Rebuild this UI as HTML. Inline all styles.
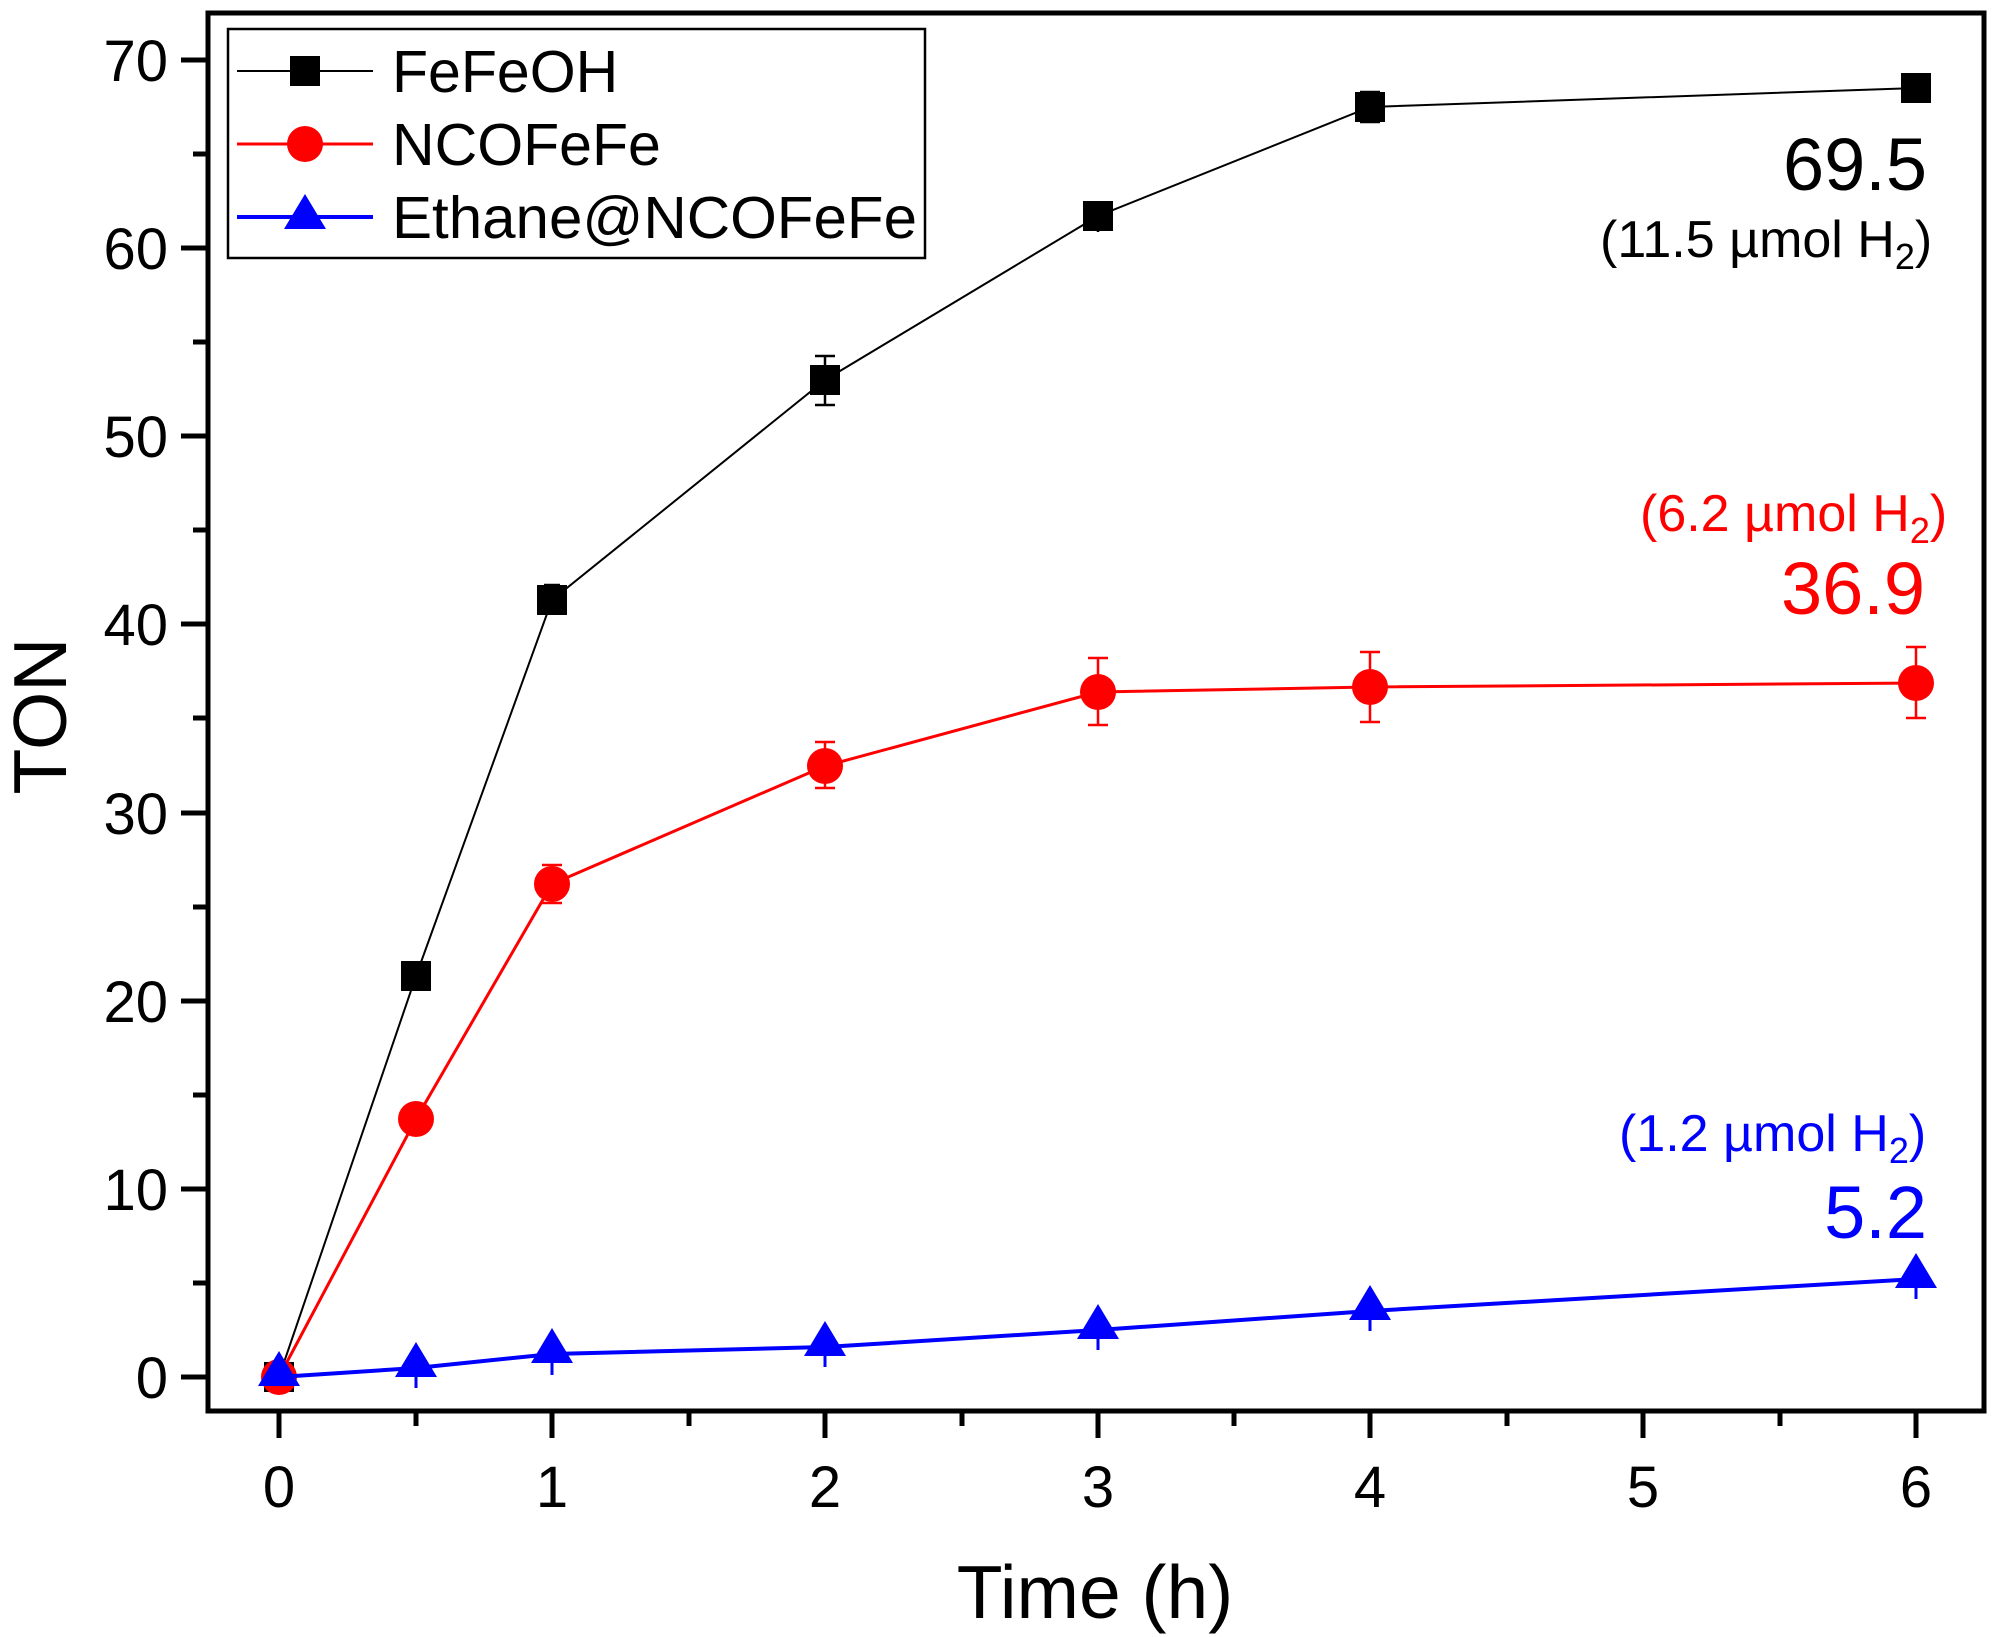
<!DOCTYPE html>
<html><head><meta charset="utf-8"><style>
html,body{margin:0;padding:0;background:#fff;}
svg{display:block;font-family:"Liberation Sans",Arial,sans-serif;}
</style></head><body>
<svg width="1994" height="1637" viewBox="0 0 1994 1637" xmlns="http://www.w3.org/2000/svg">
<g stroke="#000" stroke-width="5">
<line x1="279" y1="1412" x2="279" y2="1438"/>
<line x1="416" y1="1412" x2="416" y2="1426"/>
<line x1="552" y1="1412" x2="552" y2="1438"/>
<line x1="689" y1="1412" x2="689" y2="1426"/>
<line x1="825" y1="1412" x2="825" y2="1438"/>
<line x1="962" y1="1412" x2="962" y2="1426"/>
<line x1="1098" y1="1412" x2="1098" y2="1438"/>
<line x1="1234" y1="1412" x2="1234" y2="1426"/>
<line x1="1370" y1="1412" x2="1370" y2="1438"/>
<line x1="1507" y1="1412" x2="1507" y2="1426"/>
<line x1="1643" y1="1412" x2="1643" y2="1438"/>
<line x1="1780" y1="1412" x2="1780" y2="1426"/>
<line x1="1916" y1="1412" x2="1916" y2="1438"/>
<line x1="207" y1="1377" x2="181" y2="1377"/>
<line x1="207" y1="1283" x2="193" y2="1283"/>
<line x1="207" y1="1189" x2="181" y2="1189"/>
<line x1="207" y1="1095" x2="193" y2="1095"/>
<line x1="207" y1="1001" x2="181" y2="1001"/>
<line x1="207" y1="907" x2="193" y2="907"/>
<line x1="207" y1="813" x2="181" y2="813"/>
<line x1="207" y1="718" x2="193" y2="718"/>
<line x1="207" y1="624" x2="181" y2="624"/>
<line x1="207" y1="530" x2="193" y2="530"/>
<line x1="207" y1="436" x2="181" y2="436"/>
<line x1="207" y1="342" x2="193" y2="342"/>
<line x1="207" y1="248" x2="181" y2="248"/>
<line x1="207" y1="154" x2="193" y2="154"/>
<line x1="207" y1="60" x2="181" y2="60"/>
</g>
<rect x="208" y="13" width="1776" height="1398" fill="none" stroke="#000" stroke-width="5"/>
<g font-size="58" fill="#000" text-anchor="middle">
<text x="279" y="1507">0</text><text x="552" y="1507">1</text><text x="825" y="1507">2</text>
<text x="1098" y="1507">3</text><text x="1370" y="1507">4</text><text x="1643" y="1507">5</text><text x="1916" y="1507">6</text>
</g>
<g font-size="58" fill="#000" text-anchor="end">
<text x="168" y="1398">0</text><text x="168" y="1210">10</text><text x="168" y="1022">20</text>
<text x="168" y="834">30</text><text x="168" y="645">40</text><text x="168" y="457">50</text>
<text x="168" y="269">60</text><text x="168" y="81">70</text>
</g>
<text x="1095" y="1618" font-size="75" text-anchor="middle">Time (h)</text>
<text transform="translate(66,716) rotate(-90)" font-size="75" text-anchor="middle">TON</text>

<g stroke="#000" stroke-width="2.5">
<line x1="552" y1="585" x2="552" y2="611"/><line x1="544" y1="585" x2="560" y2="585"/><line x1="544" y1="611" x2="560" y2="611"/>
<line x1="825" y1="356" x2="825" y2="405"/><line x1="815" y1="356" x2="835" y2="356"/><line x1="815" y1="405" x2="835" y2="405"/>
<line x1="1370" y1="92" x2="1370" y2="122"/><line x1="1360" y1="92" x2="1380" y2="92"/><line x1="1360" y1="122" x2="1380" y2="122"/>
<line x1="1098" y1="208" x2="1098" y2="232"/><line x1="1088" y1="208" x2="1108" y2="208"/>
</g>
<polyline fill="none" stroke="#000" stroke-width="2" points="279,1377 416,976 552,600 825,380 1098,216 1370,107 1916,88"/>
<g fill="#000">
<rect x="264" y="1362" width="30" height="30"/><rect x="401" y="961" width="30" height="30"/>
<rect x="537" y="585" width="30" height="30"/><rect x="810" y="365" width="30" height="30"/>
<rect x="1083" y="201" width="30" height="30"/><rect x="1355" y="92" width="30" height="30"/>
<rect x="1901" y="73" width="30" height="30"/>
</g>
<g stroke="#f00" stroke-width="2.5">
<line x1="552" y1="865" x2="552" y2="903"/><line x1="542" y1="865" x2="562" y2="865"/><line x1="542" y1="903" x2="562" y2="903"/>
<line x1="825" y1="742" x2="825" y2="788"/><line x1="815" y1="742" x2="835" y2="742"/><line x1="815" y1="788" x2="835" y2="788"/>
<line x1="1098" y1="658" x2="1098" y2="725"/><line x1="1088" y1="658" x2="1108" y2="658"/><line x1="1088" y1="725" x2="1108" y2="725"/>
<line x1="1370" y1="652" x2="1370" y2="722"/><line x1="1360" y1="652" x2="1380" y2="652"/><line x1="1360" y1="722" x2="1380" y2="722"/>
<line x1="1916" y1="647" x2="1916" y2="718"/><line x1="1906" y1="647" x2="1926" y2="647"/><line x1="1906" y1="718" x2="1926" y2="718"/>
</g>
<polyline fill="none" stroke="#f00" stroke-width="3" points="279,1377 416,1119 552,884 825,766 1098,692 1370,687 1916,683"/>
<g fill="#f00">
<circle cx="279" cy="1377" r="18"/><circle cx="416" cy="1119" r="18"/><circle cx="552" cy="884" r="18"/>
<circle cx="825" cy="766" r="18"/><circle cx="1098" cy="692" r="18"/><circle cx="1370" cy="687" r="18"/><circle cx="1916" cy="683" r="18"/>
</g>
<g stroke="#00f" stroke-width="3">
<line x1="416" y1="1368" x2="416" y2="1388"/><line x1="552" y1="1355" x2="552" y2="1375"/>
<line x1="825" y1="1347" x2="825" y2="1367"/><line x1="1098" y1="1330" x2="1098" y2="1350"/>
<line x1="1370" y1="1311" x2="1370" y2="1331"/><line x1="1916" y1="1279" x2="1916" y2="1299"/>
</g>
<polyline fill="none" stroke="#00f" stroke-width="4" points="279,1377 416,1368 552,1354 825,1347 1098,1330 1370,1311 1916,1279"/>
<g fill="#00f">
<polygon points="279,1351 258,1386 300,1386"/><polygon points="416,1342 395,1377 437,1377"/>
<polygon points="552,1328 531,1363 573,1363"/><polygon points="825,1321 804,1356 846,1356"/>
<polygon points="1098,1304 1077,1339 1119,1339"/><polygon points="1370,1285 1349,1320 1391,1320"/>
<polygon points="1916,1253 1895,1288 1937,1288"/>
</g>

<text x="1927" y="190" font-size="74" text-anchor="end">69.5</text>
<text x="1600" y="257" font-size="52">(11.5 µmol H<tspan font-size="36" dy="12">2</tspan><tspan dy="-12">)</tspan></text>
<text x="1640" y="531" font-size="52" fill="#f00">(6.2 µmol H<tspan font-size="36" dy="12">2</tspan><tspan dy="-12">)</tspan></text>
<text x="1925" y="614" font-size="74" fill="#f00" text-anchor="end">36.9</text>
<text x="1619" y="1151" font-size="52" fill="#00f">(1.2 µmol H<tspan font-size="36" dy="12">2</tspan><tspan dy="-12">)</tspan></text>
<text x="1927" y="1238" font-size="74" fill="#00f" text-anchor="end">5.2</text>

<rect x="228" y="29" width="697" height="229" fill="#fff" stroke="#000" stroke-width="2.5"/>
<line x1="237" y1="71" x2="373" y2="71" stroke="#000" stroke-width="2"/>
<rect x="290" y="56" width="30" height="30" fill="#000"/>
<line x1="237" y1="144" x2="373" y2="144" stroke="#f00" stroke-width="3"/>
<circle cx="305" cy="144" r="18" fill="#f00"/>
<line x1="237" y1="217" x2="373" y2="217" stroke="#00f" stroke-width="4"/>
<polygon points="305,194 284,229 326,229" fill="#00f"/>
<g font-size="59" fill="#000">
<text x="392" y="92">FeFeOH</text>
<text x="392" y="165">NCOFeFe</text>
<text x="392" y="238" textLength="525" lengthAdjust="spacingAndGlyphs">Ethane@NCOFeFe</text>
</g>
</svg>
</body></html>
